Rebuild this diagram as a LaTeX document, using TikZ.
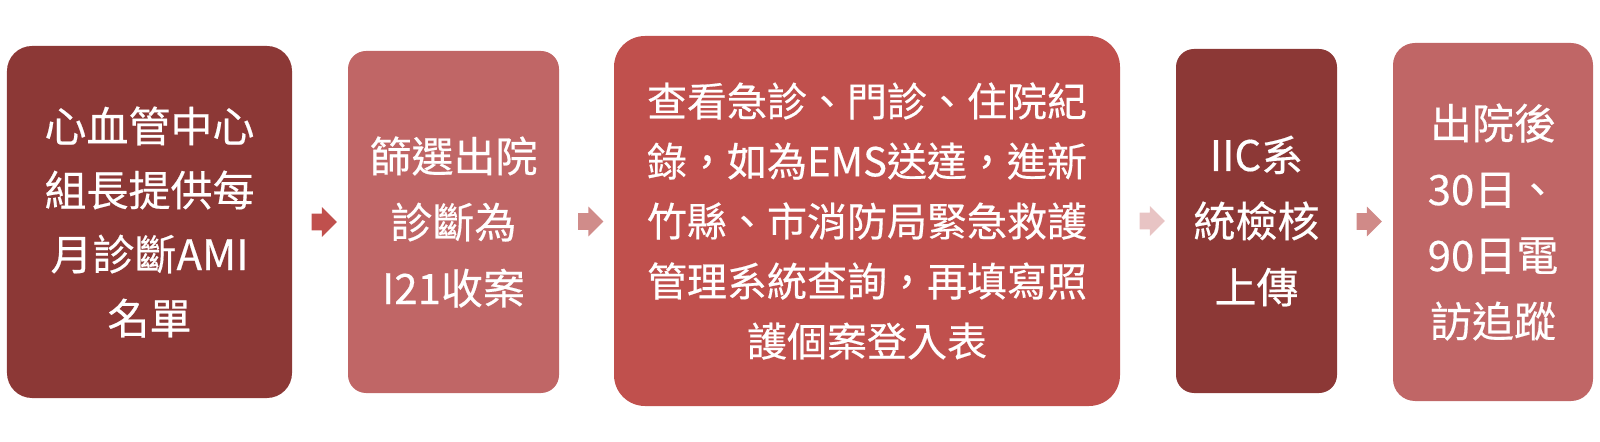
\documentclass[tikz,border=0pt]{standalone}
\usepackage{fontspec}
\setmainfont{Noto Sans CJK TC}[FakeBold=0.4]
\usetikzlibrary{shapes.arrows,calc}
\definecolor{cdark}{HTML}{8C3836}
\definecolor{cmid}{HTML}{C06666}
\definecolor{cmain}{HTML}{C0504D}
\definecolor{arA}{HTML}{C0504D}
\definecolor{arB}{HTML}{D08C8A}
\definecolor{arC}{HTML}{E8C4C4}
\definecolor{arD}{HTML}{D08A88}
\tikzset{
  stepbox/.style={rectangle, inner sep=0pt, text=white, align=center,
    font=\fontsize{21bp}{33bp}\selectfont},
  blockarrow/.style={single arrow, draw=none, fill=#1, minimum height=12.5bp,
    minimum width=14.5bp, single arrow head extend=3.25bp, inner sep=4bp,
    single arrow head indent=0pt}
}
\begin{document}
\begin{tikzpicture}[x=0.5bp,y=-0.5bp]
\useasboundingbox (0,0) rectangle (1600,442);
\node[stepbox, font=\fontsize{21bp}{32bp}\selectfont, fill=cdark, rounded corners=12.5bp, minimum width=142.5bp, minimum height=176bp] (b1) at (149.5,222)
  {心血管中心\\組長提供每\\月診斷AMI\\名單};
\node[stepbox, fill=cmid, rounded corners=9bp, minimum width=105.5bp, minimum height=171bp] (b2) at (453.5,222)
  {篩選出院\\診斷為\\I21收案};
\node[stepbox, font=\fontsize{20bp}{30bp}\selectfont, fill=cmain, rounded corners=15.5bp, minimum width=253bp, minimum height=185bp] (b3) at (867,221)
  {查看急診、門診、住院紀\\錄，如為EMS送達，進新\\竹縣、市消防局緊急救護\\管理系統查詢，再填寫照\\護個案登入表};
\node[stepbox, fill=cdark, rounded corners=9bp, minimum width=80.5bp, minimum height=172bp] (b4) at (1256.5,221)
  {IIC系\\統檢核\\上傳};
\node[stepbox, fill=cmid, rounded corners=11bp, minimum width=100bp, minimum height=179bp] (b5) at (1493,222)
  {出院後\\30日、\\90日電\\訪追蹤};
\node[blockarrow=arA] (a1) at ($(b1.east)!0.5!(b2.west)$ |- 0,220.5) {};
\node[blockarrow=arB] (a2) at ($(b2.east)!0.5!(b3.west)$ |- 0,220.5) {};
\node[blockarrow=arC] (a3) at ($(b3.east)!0.5!(b4.west)$ |- 0,220.5) {};
\node[blockarrow=arD] (a4) at ($(b4.east)!0.5!(b5.west)$ |- 0,220.5) {};
\end{tikzpicture}
\end{document}
